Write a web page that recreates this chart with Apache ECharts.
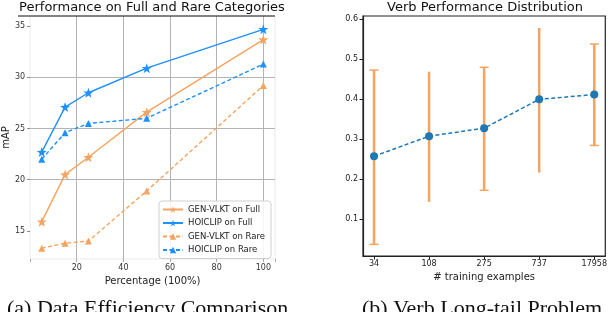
<!DOCTYPE html>
<html>
<head>
<meta charset="utf-8">
<script src="https://cdn.jsdelivr.net/npm/echarts@6/dist/echarts.min.js"></script>
<style>html,body{margin:0;padding:0;background:#fff;}#c{width:610px;height:312px;}</style>
</head>
<body>
<div id="c"></div>
<script>
// ---- Data: left chart ----
const pctX = [5, 15, 25, 50, 100];
const genFull = [15.9, 20.5, 22.2, 26.6, 33.7];
const hoiFull = [22.7, 27.1, 28.5, 30.9, 34.7];
const genRare = [13.3, 13.8, 14.0, 18.9, 29.2];
const hoiRare = [22.0, 24.6, 25.5, 26.0, 31.3];
const leftYTicks = [15, 20, 25, 30, 35];
const leftXTicks = [20, 40, 60, 80, 100];
// ---- Data: right chart ----
const verbCategories = ['34', '108', '275', '737', '17958'];
const verbMean = [0.257, 0.307, 0.327, 0.399, 0.411];
const verbLow = [0.037, 0.143, 0.172, 0.216, 0.284];
const verbHigh = [0.472, 0.468, 0.479, 0.577, 0.537];
const rightYTicks = [0.1, 0.2, 0.3, 0.4, 0.5, 0.6];

const capShown = [true, false, true, false, true];

const BLUE = '#1E90FF', ORANGE = '#F4A460';
const STAR = 'path://M0,-10L2.35,-3.24L9.51,-3.09L3.8,1.24L5.88,8.09L0,4L-5.88,8.09L-3.8,1.24L-9.51,-3.09L-2.35,-3.24Z';
const FONT = 'DejaVu Sans';

function pairs(xs, ys) { return xs.map((x, i) => [x, ys[i]]); }

const chart = echarts.init(document.getElementById('c'), null, {renderer: 'canvas'});

function lineSeries(name, ys, color, symbol, size, dashed) {
  return {
    name, type: 'line', xAxisIndex: 0, yAxisIndex: 0,
    data: pairs(pctX, ys), symbol, symbolSize: size, showSymbol: true,
    lineStyle: {color, width: 1.4, type: dashed ? [4, 2.5] : 'solid'},
    itemStyle: {color}, animation: false, z: 3
  };
}

const option = {
  animation: false,
  backgroundColor: '#fff',
  textStyle: {fontFamily: FONT},
  title: [
    {text: 'Performance on Full and Rare Categories', left: 147, top: -4, textAlign: 'center',
     textStyle: {fontFamily: FONT, fontSize: 13, fontWeight: 'normal', color: '#111'}},
    {text: 'Verb Performance Distribution', left: 480, top: -4, textAlign: 'center',
     textStyle: {fontFamily: FONT, fontSize: 13, fontWeight: 'normal', color: '#111'}}
  ],
  grid: [
    {left: 30, top: 16, width: 245, height: 243, show: true, borderColor: '#ebebeb', borderWidth: 1, backgroundColor: 'transparent'},
    {left: 363, top: 16, width: 245, height: 240, show: true, borderColor: '#222', borderWidth: 1.2, backgroundColor: 'transparent'}
  ],
  xAxis: [
    {type: 'value', gridIndex: 0, min: 0, max: 105, interval: 20,
     axisLine: {show: false, onZero: false}, axisTick: {show: true, length: 3, lineStyle: {color: '#aaa'}},
     axisLabel: {fontSize: 8, color: '#333', margin: 5, formatter: v => (leftXTicks.indexOf(v) >= 0 ? String(v) : '')},
     splitLine: {show: true, showMinLine: false, showMaxLine: false, lineStyle: {color: '#b4b4b4', width: 1}},
     name: 'Percentage (100%)', nameLocation: 'middle', nameGap: 17,
     nameTextStyle: {fontSize: 10, color: '#222', fontFamily: FONT}},
    {type: 'value', gridIndex: 1, min: -0.2, max: 4.2,
     axisLine: {show: true, onZero: false, lineStyle: {color: '#222', width: 1.2}},
     axisTick: {show: true, length: 3.5, customValues: [0, 1, 2, 3, 4], lineStyle: {color: '#222'}},
     axisLabel: {fontSize: 8, color: '#222', margin: 4, customValues: [0, 1, 2, 3, 4], formatter: v => verbCategories[Math.round(v)]},
     splitLine: {show: false},
     name: '# training examples', nameLocation: 'middle', nameGap: 16,
     nameTextStyle: {fontSize: 10, color: '#222', fontFamily: FONT}}
  ],
  yAxis: [
    {type: 'value', gridIndex: 0, min: 12.25, max: 36,
     axisLine: {show: false, onZero: false},
     axisTick: {show: true, length: 3, customValues: leftYTicks, lineStyle: {color: '#888'}},
     axisLabel: {fontSize: 8, color: '#333', margin: 5, customValues: leftYTicks},
     splitLine: {show: true, showMinLine: false, showMaxLine: false, lineStyle: {color: '#b4b4b4', width: 1}},
     name: 'mAP', nameLocation: 'middle', nameGap: 18, nameRotate: 90,
     nameTextStyle: {fontSize: 10, color: '#222', fontFamily: FONT}},
    {type: 'value', gridIndex: 1, min: 0.008, max: 0.607,
     axisLine: {show: true, onZero: false, lineStyle: {color: '#222', width: 1.2}},
     axisTick: {show: true, length: 3.5, customValues: rightYTicks, lineStyle: {color: '#222'}},
     axisLabel: {fontSize: 8, color: '#222', margin: 5, customValues: rightYTicks, formatter: v => v.toFixed(1)},
     splitLine: {show: false}}
  ],
  legend: {
    left: 159, top: 201, orient: 'vertical', itemWidth: 20, itemHeight: 8, itemGap: 4.5,
    padding: [4, 6, 4, 3], borderColor: '#d0d0d0', borderWidth: 1, borderRadius: 3,
    backgroundColor: 'rgba(255,255,255,0.85)',
    textStyle: {fontFamily: FONT, fontSize: 8.5, color: '#222'},
    data: ['GEN-VLKT on Full', 'HOICLIP on Full', 'GEN-VLKT on Rare', 'HOICLIP on Rare']
  },
  graphic: [
    {type: 'line', shape: {x1: 18, y1: 16, x2: 275, y2: 16}, style: {stroke: '#111', lineWidth: 1}, z: 10},
    {type: 'text', left: 7, top: 298, style: {text: '(a) Data Efficiency Comparison', font: '22px "Liberation Serif"', fill: '#111'}},
    {type: 'text', left: 362, top: 298, style: {text: '(b) Verb Long-tail Problem', font: '22px "Liberation Serif"', fill: '#111'}}
  ],
  series: [
    lineSeries('GEN-VLKT on Full', genFull, ORANGE, STAR, 10, false),
    lineSeries('HOICLIP on Full', hoiFull, BLUE, STAR, 10, false),
    lineSeries('GEN-VLKT on Rare', genRare, ORANGE, 'triangle', 7, true),
    lineSeries('HOICLIP on Rare', hoiRare, BLUE, 'triangle', 7, true),
    {
      type: 'custom', xAxisIndex: 1, yAxisIndex: 1, z: 2,
      data: verbCategories.map((c, i) => [i, verbLow[i], verbHigh[i]]),
      renderItem: function (params, api) {
        const i = api.value(0);
        const lo = api.coord([i, api.value(1)]);
        const hi = api.coord([i, api.value(2)]);
        const children = [{type: 'line', shape: {x1: lo[0], y1: lo[1], x2: hi[0], y2: hi[1]},
          style: {stroke: ORANGE, lineWidth: 2.5}}];
        if (capShown[params.dataIndex]) {
          children.push({type: 'line', shape: {x1: hi[0] - 4.5, y1: hi[1], x2: hi[0] + 4.5, y2: hi[1]}, style: {stroke: ORANGE, lineWidth: 1.5}});
          children.push({type: 'line', shape: {x1: lo[0] - 4.5, y1: lo[1], x2: lo[0] + 4.5, y2: lo[1]}, style: {stroke: ORANGE, lineWidth: 1.5}});
        }
        return {type: 'group', children};
      }
    },
    {
      type: 'line', xAxisIndex: 1, yAxisIndex: 1, z: 4,
      data: verbMean.map((v, i) => [i, v]), symbol: 'circle', symbolSize: 8,
      lineStyle: {color: '#1f77b4', width: 1.5, type: [4, 2.5]}, itemStyle: {color: '#1f77b4'}
    }
  ]
};
chart.setOption(option);
</script>
</body>
</html>
